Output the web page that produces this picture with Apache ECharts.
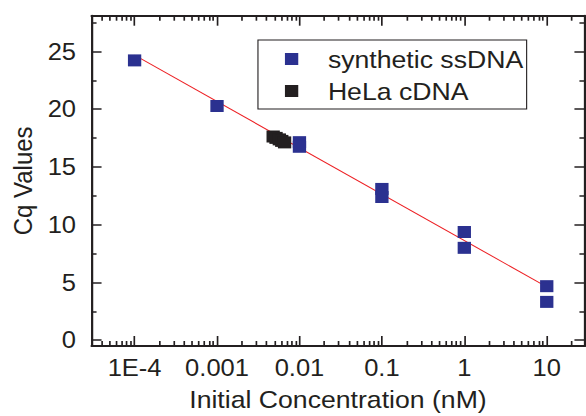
<!DOCTYPE html>
<html>
<head>
<meta charset="utf-8">
<script src="https://cdn.jsdelivr.net/npm/echarts@6/dist/echarts.min.js"></script>
<style>
  html, body { margin: 0; padding: 0; background: #fff; overflow: hidden; }
  /* the original figure is stretched a little horizontally */
  #main { width: 528px; height: 416px; transform: scaleX(1.11); transform-origin: 0 0; }
</style>
</head>
<body>
<div id="main"></div>
<script>
// data (concentration in nM, Cq)
const concSynthetic = [1e-4, 0.001, 0.01, 0.01, 0.1, 0.1, 1, 1, 10, 10];
const cqSynthetic = [24.23, 20.28, 17.15, 16.75, 13.1, 12.4, 9.37, 8.0, 4.68, 3.32];
const concHela = [0.0048, 0.0052, 0.0057, 0.0061, 0.0066];
const cqHela = [17.64, 17.52, 17.39, 17.26, 17.13];
const fitConc = [1e-4, 10];
const fitCq = [24.68, 4.62];

const xTickValues = [1e-4, 0.001, 0.01, 0.1, 1, 10];
const xTickLabels = ['1E-4', '0.001', '0.01', '0.1', '1', '10'];
const yTickValues = [0, 5, 10, 15, 20, 25];
const yMinorValues = [2.5, 7.5, 12.5, 17.5, 22.5, 27.5];

const X_MIN = -4.522, X_MAX = 1.457; // log10 range of the frame
const Y_MIN = -0.5, Y_MAX = 28.1;
const INK = '#231f20';
const FONT = 'Liberation Sans, Arial, sans-serif';

// minor log ticks 2..9 per decade
const xMinor = [];
for (let d = -5; d <= 1; d++) {
  for (let k = 2; k <= 9; k++) {
    const v = Math.log10(k * Math.pow(10, d));
    if (v > X_MIN && v < X_MAX) xMinor.push(v);
  }
}
const xMajor = xTickValues.map(v => Math.log10(v));

function pairs(xs, ys) {
  return xs.map((x, i) => [Math.log10(x), ys[i]]);
}

function xAxisDef(position, ticks, len, showLine, showLabel, withName) {
  return {
    type: 'value', position: position, min: X_MIN, max: X_MAX,
    axisLine: { show: showLine, onZero: false, lineStyle: { color: INK, width: 2 } },
    axisTick: { show: true, inside: true, length: len, customValues: ticks,
      lineStyle: { color: INK, width: 1.5 } },
    axisLabel: { show: showLabel, customValues: ticks, margin: 10, color: INK,
      fontSize: 23, fontFamily: FONT,
      formatter: function (v) {
        const i = xMajor.findIndex(t => Math.abs(t - v) < 1e-6);
        return i >= 0 ? xTickLabels[i] : '';
      } },
    splitLine: { show: false },
    name: withName ? 'Initial Concentration (nM)' : '',
    nameLocation: 'middle', nameGap: 41,
    nameTextStyle: { color: INK, fontSize: 24, fontFamily: FONT }
  };
}

function yAxisDef(position, ticks, len, showLine, showLabel, withName) {
  return {
    type: 'value', position: position, min: Y_MIN, max: Y_MAX,
    axisLine: { show: showLine, onZero: false, lineStyle: { color: INK, width: 2 } },
    axisTick: { show: true, inside: true, length: len, customValues: ticks,
      lineStyle: { color: INK, width: 1.5 } },
    axisLabel: { show: showLabel, customValues: ticks, margin: 14, color: INK,
      fontSize: 23, fontFamily: FONT },
    splitLine: { show: false },
    name: withName ? 'Cq Values' : '',
    nameLocation: 'middle', nameGap: 50,
    nameTextStyle: { color: INK, fontSize: 24, fontFamily: FONT }
  };
}

const chart = echarts.init(document.getElementById('main'), null, { renderer: 'svg' });

const option = {
  animation: false,
  backgroundColor: '#fff',
  grid: { left: 80.6, right: 1.5, top: 15.7, bottom: 64.3 },
  xAxis: [
    xAxisDef('bottom', xMajor, 10, true, true, true),
    xAxisDef('bottom', xMinor, 5, false, false, false),
    xAxisDef('top', xMajor, 10, true, false, false),
    xAxisDef('top', xMinor, 5, false, false, false)
  ],
  yAxis: [
    yAxisDef('left', yTickValues, 9, true, true, true),
    yAxisDef('left', yMinorValues, 4.5, false, false, false),
    yAxisDef('right', yTickValues, 9, true, false, false),
    yAxisDef('right', yMinorValues, 4.5, false, false, false)
  ],
  legend: {
    data: ['synthetic ssDNA', 'HeLa cDNA'],
    orient: 'vertical',
    left: 232.4, top: 40,
    padding: [6, 3, 5, 24.3],
    itemWidth: 12, itemHeight: 12, itemGap: 6,
    backgroundColor: '#fff', borderColor: INK, borderWidth: 1, borderRadius: 0,
    textStyle: { color: INK, fontSize: 24, fontFamily: FONT, lineHeight: 26,
      padding: [0, 0, 0, 21.7] }
  },
  series: [
    {
      name: 'fit', type: 'line', data: pairs(fitConc, fitCq),
      symbol: 'none', lineStyle: { color: '#ed2024', width: 1 }, z: 1
    },
    {
      name: 'synthetic ssDNA', type: 'scatter', data: pairs(concSynthetic, cqSynthetic),
      symbol: 'rect', symbolSize: 12, itemStyle: { color: '#2b3190', opacity: 1 }, z: 2
    },
    {
      name: 'HeLa cDNA', type: 'scatter', data: pairs(concHela, cqHela),
      symbol: 'rect', symbolSize: 12, itemStyle: { color: INK, opacity: 1 }, z: 3
    }
  ]
};

chart.setOption(option);
</script>
</body>
</html>
